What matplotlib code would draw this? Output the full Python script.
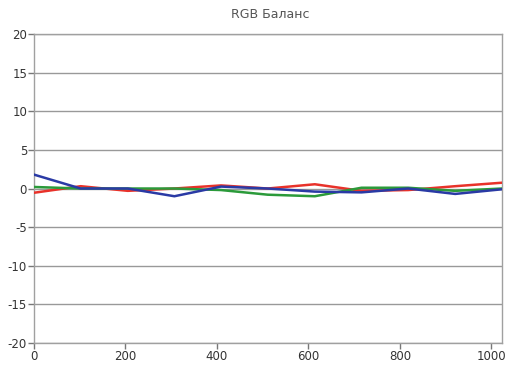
import matplotlib
matplotlib.use("Agg")
import matplotlib.pyplot as plt

plt.rcParams["axes.unicode_minus"] = False

x_levels = [0, 102, 205, 307, 409, 511, 614, 716, 818, 921, 1023]
red_vals = [-0.55, 0.3, -0.3, 0.0, 0.4, 0.0, 0.55, -0.3, -0.2, 0.3, 0.75]
green_vals = [0.2, 0.0, 0.0, 0.0, -0.2, -0.8, -1.0, 0.1, 0.1, -0.3, 0.0]
blue_vals = [1.8, 0.0, 0.0, -1.0, 0.25, 0.0, -0.4, -0.5, 0.0, -0.7, -0.1]
y_ticks = [-20, -15, -10, -5, 0, 5, 10, 15, 20]
x_ticks = [0, 200, 400, 600, 800, 1000]
title = "RGB Баланс"

fig = plt.figure(figsize=(5.09, 3.70), dpi=100)
ax = fig.add_axes([0.0668, 0.073, 0.9192, 0.835])

ax.plot(x_levels, red_vals, color="#e8322a", lw=1.8, zorder=3)
ax.plot(x_levels, green_vals, color="#2b9a3a", lw=1.8, zorder=3)
ax.plot(x_levels, blue_vals, color="#2a3aa5", lw=1.8, zorder=4)

ax.set_xlim(0, 1023)
ax.set_ylim(-20, 20)
ax.set_yticks(y_ticks)
ax.set_xticks(x_ticks)
ax.yaxis.grid(True, color="#999999", lw=1.0)
ax.set_axisbelow(True)
for s in ax.spines.values():
    s.set_color("#a0a0a0")
    s.set_linewidth(1.0)
ax.tick_params(axis="both", colors="#777777", length=4, width=1.0,
               labelsize=8.5, labelcolor="#333333", pad=1)

fig.text(0.531, 0.962, title, ha="center", va="center", fontsize=9,
         color="#555555", family="DejaVu Sans")

fig.savefig("out.png", dpi=100)
